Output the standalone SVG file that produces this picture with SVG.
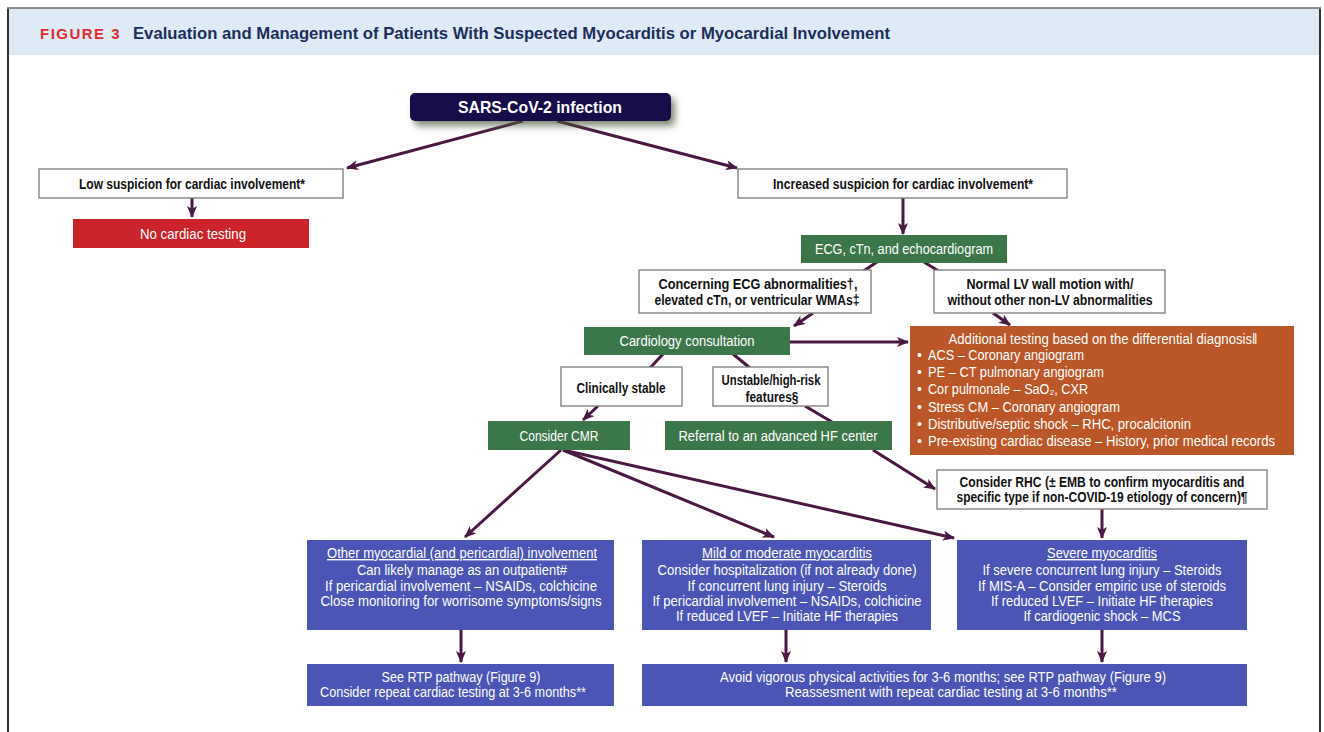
<svg xmlns="http://www.w3.org/2000/svg" width="1324" height="732" viewBox="0 0 1324 732">
<defs>
<marker id="ah" viewBox="0 0 12 10" refX="11" refY="5" markerWidth="12" markerHeight="10" markerUnits="userSpaceOnUse" orient="auto">
<path d="M0,0 L12,5 L0,10 L3,5 Z" fill="#4A1942"/>
</marker>
<filter id="sh" x="-20%" y="-50%" width="140%" height="220%">
<feDropShadow dx="4" dy="5" stdDeviation="3.5" flood-color="#4d5a3c" flood-opacity="0.7"/>
</filter>
<style>
text{font-family:"Liberation Sans",Arial,sans-serif;}
.b{font-weight:bold;font-size:14px;fill:#111;text-anchor:middle;}
.bs{font-weight:bold;font-size:14px;fill:#111;}
.w{font-size:14px;fill:#fff;text-anchor:middle;}
.wl{font-size:14px;fill:#fff;}
.wb{fill:#fff;stroke:#7a7a7a;stroke-width:1.3;}
.g{fill:#3C774A;}
.bl{fill:#4A55B5;}
.c{fill:none;stroke:#4A1942;stroke-width:3;}
.ca{fill:none;stroke:#4A1942;stroke-width:3;marker-end:url(#ah);}
</style>
</defs>
<rect x="0" y="0" width="1324" height="732" fill="#fff"/>
<rect x="8" y="8" width="1312" height="740" fill="#fff" stroke="#333" stroke-width="2"/>
<line x1="7" y1="8" x2="1321" y2="8" stroke="#8a8a8a" stroke-width="2"/>
<rect x="9" y="9" width="1310" height="46" fill="#DEEAF5"/>
<text x="40" y="39" font-size="15" font-weight="bold" fill="#E42A2F" letter-spacing="1.5" textLength="81" lengthAdjust="spacingAndGlyphs">FIGURE 3</text>
<text x="133" y="39" font-size="17" font-weight="bold" fill="#1B2E5A" textLength="757" lengthAdjust="spacingAndGlyphs">Evaluation and Management of Patients With Suspected Myocarditis or Myocardial Involvement</text>

<g id="connectors">
<path class="ca" d="M523,121 L347,168"/>
<path class="ca" d="M557,121 L737,168"/>
<path class="ca" d="M192,198 L192,217"/>
<path class="ca" d="M903,198 L903,234"/>
<path class="c" d="M877,262 L862,272"/>
<path class="c" d="M924,262 L940,272"/>
<path class="ca" d="M813,313 L794,326"/>
<path class="ca" d="M993,313 L1010,325"/>
<path class="ca" d="M790,342 L908,342"/>
<path class="c" d="M663,354 L650,368"/>
<path class="c" d="M733,354 L750,368"/>
<path class="ca" d="M598,406 L583,420"/>
<path class="c" d="M805,406 L832,422"/>
<path class="ca" d="M873,450 L935,489"/>
<path class="ca" d="M561,450 L465,537"/>
<path class="ca" d="M563,450 L774,537"/>
<path class="ca" d="M563,450 L954,538"/>
<path class="ca" d="M1102,509 L1102,538"/>
<path class="ca" d="M461,630 L461,662"/>
<path class="ca" d="M786,630 L786,662"/>
<path class="ca" d="M1102,630 L1102,662"/>
</g>

<g id="n-sars">
<rect x="410" y="93" width="261" height="28" rx="5" fill="#13104A" filter="url(#sh)"/>
<text x="540" y="113" font-size="17" font-weight="bold" fill="#fff" text-anchor="middle" textLength="164" lengthAdjust="spacingAndGlyphs">SARS-CoV-2 infection</text>
</g>
<g id="n-low">
<rect class="wb" x="39" y="169" width="304" height="29"/>
<text class="b" x="192" y="189" textLength="226" lengthAdjust="spacingAndGlyphs">Low suspicion for cardiac involvement*</text>
</g>
<g id="n-notest">
<rect x="73" y="219" width="236" height="29" fill="#CC2229"/>
<text class="w" x="193" y="239" textLength="106" lengthAdjust="spacingAndGlyphs">No cardiac testing</text>
</g>
<g id="n-increased">
<rect class="wb" x="738" y="169" width="329" height="29"/>
<text class="b" x="903" y="189" textLength="260" lengthAdjust="spacingAndGlyphs">Increased suspicion for cardiac involvement*</text>
</g>
<g id="n-ecg">
<rect class="g" x="801" y="235" width="206" height="28"/>
<text class="w" x="904" y="254" textLength="178" lengthAdjust="spacingAndGlyphs">ECG, cTn, and echocardiogram</text>
</g>
<g id="n-concerning">
<rect class="wb" x="639" y="270" width="232" height="43"/>
<text class="b" x="758" y="289" textLength="199" lengthAdjust="spacingAndGlyphs">Concerning ECG abnormalities†,</text>
<text class="b" x="757" y="305" textLength="205" lengthAdjust="spacingAndGlyphs">elevated cTn, or ventricular WMAs‡</text>
</g>
<g id="n-normal">
<rect class="wb" x="934" y="270" width="231" height="43"/>
<text class="b" x="1050" y="289" textLength="167" lengthAdjust="spacingAndGlyphs">Normal LV wall motion with/</text>
<text class="b" x="1050" y="305" textLength="205" lengthAdjust="spacingAndGlyphs">without other non-LV abnormalities</text>
</g>
<g id="n-cardiology">
<rect class="g" x="584" y="327" width="206" height="28"/>
<text class="w" x="687" y="346" textLength="135" lengthAdjust="spacingAndGlyphs">Cardiology consultation</text>
</g>
<g id="n-additional">
<rect x="910" y="326" width="384" height="129" fill="#BA5628"/>
<text class="w" x="1103" y="344" textLength="309" lengthAdjust="spacingAndGlyphs">Additional testing based on the differential diagnosis‖</text>
<text class="wl" x="917" y="360">•</text>
<text class="wl" x="928" y="360" textLength="156" lengthAdjust="spacingAndGlyphs">ACS – Coronary angiogram</text>
<text class="wl" x="917" y="377">•</text>
<text class="wl" x="928" y="377" textLength="176" lengthAdjust="spacingAndGlyphs">PE – CT pulmonary angiogram</text>
<text class="wl" x="917" y="394">•</text>
<text class="wl" x="928" y="394" textLength="160" lengthAdjust="spacingAndGlyphs">Cor pulmonale – SaO₂, CXR</text>
<text class="wl" x="917" y="412">•</text>
<text class="wl" x="928" y="412" textLength="192" lengthAdjust="spacingAndGlyphs">Stress CM – Coronary angiogram</text>
<text class="wl" x="917" y="429">•</text>
<text class="wl" x="928" y="429" textLength="263" lengthAdjust="spacingAndGlyphs">Distributive/septic shock – RHC, procalcitonin</text>
<text class="wl" x="917" y="446">•</text>
<text class="wl" x="928" y="446" textLength="347" lengthAdjust="spacingAndGlyphs">Pre-existing cardiac disease – History, prior medical records</text>
</g>
<g id="n-stable">
<rect class="wb" x="561" y="367" width="121" height="39"/>
<text class="b" x="621" y="393" textLength="89" lengthAdjust="spacingAndGlyphs">Clinically stable</text>
</g>
<g id="n-unstable">
<rect class="wb" x="713" y="367" width="115" height="39"/>
<text class="b" x="771" y="385" textLength="99" lengthAdjust="spacingAndGlyphs">Unstable/high-risk</text>
<text class="b" x="772" y="402" textLength="53" lengthAdjust="spacingAndGlyphs">features§</text>
</g>
<g id="n-cmr">
<rect class="g" x="488" y="421" width="142" height="29"/>
<text class="w" x="559" y="441" textLength="79" lengthAdjust="spacingAndGlyphs">Consider CMR</text>
</g>
<g id="n-referral">
<rect class="g" x="665" y="421" width="227" height="29"/>
<text class="w" x="778" y="441" textLength="199" lengthAdjust="spacingAndGlyphs">Referral to an advanced HF center</text>
</g>
<g id="n-rhc">
<rect class="wb" x="937" y="470" width="330" height="39"/>
<text class="b" x="1102" y="487" textLength="285" lengthAdjust="spacingAndGlyphs">Consider RHC (± EMB to confirm myocarditis and</text>
<text class="b" x="1102" y="502" textLength="291" lengthAdjust="spacingAndGlyphs">specific type if non-COVID-19 etiology of concern)¶</text>
</g>
<g id="n-other">
<rect class="bl" x="307" y="540" width="307" height="90"/>
<text class="w" x="462" y="558" text-decoration="underline" textLength="270" lengthAdjust="spacingAndGlyphs">Other myocardial (and pericardial) involvement</text>
<text class="w" x="462" y="575" textLength="210" lengthAdjust="spacingAndGlyphs">Can likely manage as an outpatient#</text>
<text class="w" x="461" y="590.5" textLength="272" lengthAdjust="spacingAndGlyphs">If pericardial involvement – NSAIDs, colchicine</text>
<text class="w" x="461" y="606" textLength="281" lengthAdjust="spacingAndGlyphs">Close monitoring for worrisome symptoms/signs</text>
</g>
<g id="n-mild">
<rect class="bl" x="642" y="540" width="289" height="90"/>
<text class="w" x="787" y="558" text-decoration="underline" textLength="170" lengthAdjust="spacingAndGlyphs">Mild or moderate myocarditis</text>
<text class="w" x="787" y="575" textLength="259" lengthAdjust="spacingAndGlyphs">Consider hospitalization (if not already done)</text>
<text class="w" x="787" y="590.5" textLength="199" lengthAdjust="spacingAndGlyphs">If concurrent lung injury – Steroids</text>
<text class="w" x="787" y="606" textLength="269" lengthAdjust="spacingAndGlyphs">If pericardial involvement – NSAIDs, colchicine</text>
<text class="w" x="787" y="621" textLength="222" lengthAdjust="spacingAndGlyphs">If reduced LVEF – Initiate HF therapies</text>
</g>
<g id="n-severe">
<rect class="bl" x="957" y="540" width="290" height="90"/>
<text class="w" x="1102" y="558" text-decoration="underline" textLength="110" lengthAdjust="spacingAndGlyphs">Severe myocarditis</text>
<text class="w" x="1102" y="575" textLength="239" lengthAdjust="spacingAndGlyphs">If severe concurrent lung injury – Steroids</text>
<text class="w" x="1102" y="590.5" textLength="248" lengthAdjust="spacingAndGlyphs">If MIS-A – Consider empiric use of steroids</text>
<text class="w" x="1102" y="606" textLength="222" lengthAdjust="spacingAndGlyphs">If reduced LVEF – Initiate HF therapies</text>
<text class="w" x="1102" y="621" textLength="157" lengthAdjust="spacingAndGlyphs">If cardiogenic shock – MCS</text>
</g>
<g id="n-rtp-left">
<rect class="bl" x="307" y="664" width="307" height="42"/>
<text class="w" x="461" y="682" textLength="159" lengthAdjust="spacingAndGlyphs">See RTP pathway (Figure 9)</text>
<text class="w" x="453" y="697" textLength="266" lengthAdjust="spacingAndGlyphs">Consider repeat cardiac testing at 3-6 months**</text>
</g>
<g id="n-rtp-right">
<rect class="bl" x="642" y="664" width="605" height="42"/>
<text class="w" x="943" y="682" textLength="446" lengthAdjust="spacingAndGlyphs">Avoid vigorous physical activities for 3-6 months; see RTP pathway (Figure 9)</text>
<text class="w" x="951" y="697" textLength="332" lengthAdjust="spacingAndGlyphs">Reassesment with repeat cardiac testing at 3-6 months**</text>
</g>
</svg>
